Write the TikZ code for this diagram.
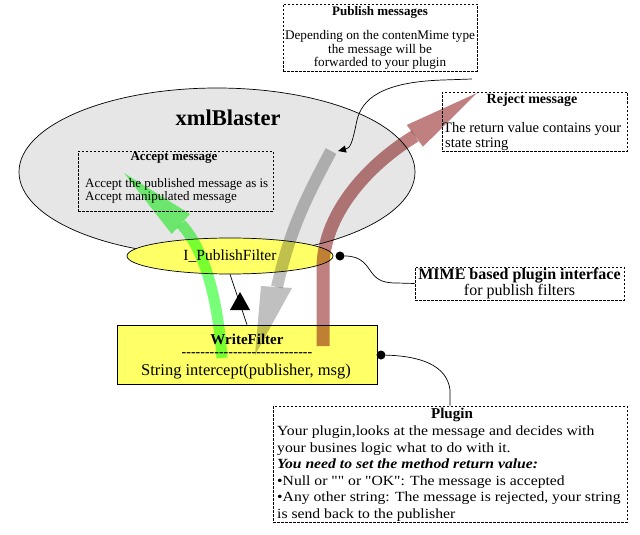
\documentclass[tikz,border=0pt]{standalone}
\usepackage{fontspec}
\setmainfont{Liberation Serif}[Ligatures=TeXOff]
\newfontfamily\plugfont{Liberation Serif}[FakeStretch=1.12, Ligatures=TeXOff]
\usetikzlibrary{arrows.meta,shapes.geometric,calc}
\definecolor{ellgray}{RGB}{230,230,230}
\definecolor{fyellow}{RGB}{255,255,102}
\definecolor{agreen}{RGB}{120,255,120}
\definecolor{agray}{RGB}{192,192,192}
\definecolor{abrown}{RGB}{192,128,128}
\tikzset{
  dbox/.style={draw, dash pattern=on 2.5pt off 1.5pt, line width=0.7pt, inner sep=0pt},
  solidline/.style={draw, line width=0.7pt},
  txt/.style={inner sep=0pt, font=\fontsize{13}{13}\selectfont},
  bigtxt/.style={inner sep=0pt, font=\fontsize{15}{15}\selectfont},
  dotnode/.style={circle, fill=black, inner sep=0pt, minimum size=9pt},
  fatshaft/.style={line width=#1, line cap=butt},
}
\begin{document}
\begin{tikzpicture}[x=1pt,y=-1pt]
\useasboundingbox (0,0) rectangle (640,535);

% big ellipse
\node[ellipse, solidline, fill=ellgray, minimum width=396pt, minimum height=168pt, inner sep=0pt] (xb) at (217,172) {};
\node[inner sep=0pt, font=\fontsize{22.5}{22.5}\selectfont\bfseries] (xbt) at (228,118) {xmlBlaster};

% accept box
\node[dbox, minimum width=195pt, minimum height=60pt] (acc) at (175.5,181) {};
\node[txt, font=\fontsize{13}{13}\selectfont\bfseries] (acct) at (174,158) {Accept message};
\node[txt, anchor=west] (acc1) at (85,184) {Accept the published message as is};
\node[txt, anchor=west] (acc2) at (85,197) {Accept manipulated message};

% publish box
\node[dbox, minimum width=194pt, minimum height=67pt] (pub) at (380,37.5) {};
\node[txt, font=\fontsize{13}{13}\selectfont\bfseries] (pubt) at (380,12) {Publish messages};
\node[txt, align=center, font=\fontsize{13.2}{13.2}\selectfont] (pubx) at (380,50) {Depending on the contenMime type\\the message will be\\forwarded to your plugin};

% reject box
\node[dbox, minimum width=185pt, minimum height=59pt] (rej) at (534.5,121.5) {};
\node[txt, font=\fontsize{14}{14}\selectfont\bfseries] (rejt) at (532,100) {Reject message};
\node[txt, anchor=west, font=\fontsize{14.5}{14.5}\selectfont] (rej1) at (443,129) {The return value contains your};
\node[txt, anchor=west, font=\fontsize{14.5}{14.5}\selectfont] (rej2) at (445,144) {state string};

% small ellipse
\node[ellipse, solidline, fill=fyellow, minimum width=206pt, minimum height=36pt, inner sep=0pt] (pf) at (230,256) {};
\node[bigtxt, font=\fontsize{15.5}{15.5}\selectfont] (pft) at (230,256) {I\_PublishFilter};

% WriteFilter box
\node[solidline, fill=fyellow, minimum width=260pt, minimum height=59pt, inner sep=0pt] (wf) at (247,354.5) {};
\node[bigtxt, font=\fontsize{15}{15}\selectfont\bfseries] (wft) at (247,339) {WriteFilter};
\node[bigtxt, font=\fontsize{14}{14}\selectfont\bfseries] (wfd) at (247,355) {----------------------------};
\node[bigtxt, font=\fontsize{16.5}{16.5}\selectfont] (wfm) at (246,372) {String intercept(publisher, msg)};

% MIME box
\node[dbox, minimum width=209pt, minimum height=33pt] (mime) at (519.5,283.5) {};
\node[bigtxt, align=center, font=\fontsize{16}{15.5}\selectfont] (mimet) at (519.5,283.5) {\textbf{MIME based plugin interface}\\for publish filters};

% Plugin box
\node[dbox, minimum width=354pt, minimum height=116pt] (plug) at (450,464) {};
\node[inner sep=0pt, font=\fontsize{15}{15}\selectfont\bfseries] (plugt) at (452,415) {Plugin};
\node[inner sep=0pt, anchor=north west, align=left, font=\plugfont\fontsize{14}{16.5}\selectfont] (plugx) at (277,426)
 {Your plugin,looks at the message and decides with\\
  your busines logic what to do with it.\\
  \textbf{\itshape You need to set the method return value:}\\
  •Null or "" or "OK": The message is accepted\\
  •Any other string: The message is rejected, your string\\
  is send back to the publisher};

% dots
\node[dotnode] (d1) at (340,256) {};
\node[dotnode] (d2) at (381,355) {};

% inheritance
\draw[solidline] (wf.north) -- (pf.south);
\fill[black] (240,292) -- (250,310) -- (230,310) -- cycle;

% fat arrows
\coordinate (gbot) at (222,358);
\coordinate (gtip) at (124,173);
\coordinate (gytop) at (331,151);
\coordinate (gytip) at (255,355);
\coordinate (bbot) at (323,346);
\coordinate (btip) at (477,93);
\begin{scope}[blend mode=multiply]
  \draw[agreen, fatshaft=11pt] (gbot) .. controls (218,300) and (205,250) .. (181,224);
  \fill[agreen] (171.7,234) -- (gtip) -- (190,214) -- cycle;
  \draw[agray, fatshaft=12pt] (gytop) .. controls (305,200) and (290,230) .. (277,287);
  \fill[agray] (261,286) -- (292,288) -- (gytip) -- cycle;
  \draw[abrown, fatshaft=13pt] (bbot) -- (323,265) .. controls (325,210) and (372,162) .. (415,136);
  \fill[abrown] (406.7,125) -- (btip) -- (423,146.7) -- cycle;
\end{scope}

% connectors
\coordinate (pubstart) at (472,79);
\draw[solidline, -{Triangle[length=8pt,width=7pt]}] (pubstart) -- (443,80) .. controls (380,82) and (362,100) .. (357,120) .. controls (352,145) and (350,148) .. ($(gytop)+(7,0)$);
\draw[solidline] (d1) .. controls (362,256) and (366,265) .. (372,273) .. controls (378,281) and (385,283) .. (397,283) -- (mime.west);
\draw[solidline] (d2) .. controls (420,356) and (447,365) .. (450,390) -- (plug.north);
\end{tikzpicture}
\end{document}
